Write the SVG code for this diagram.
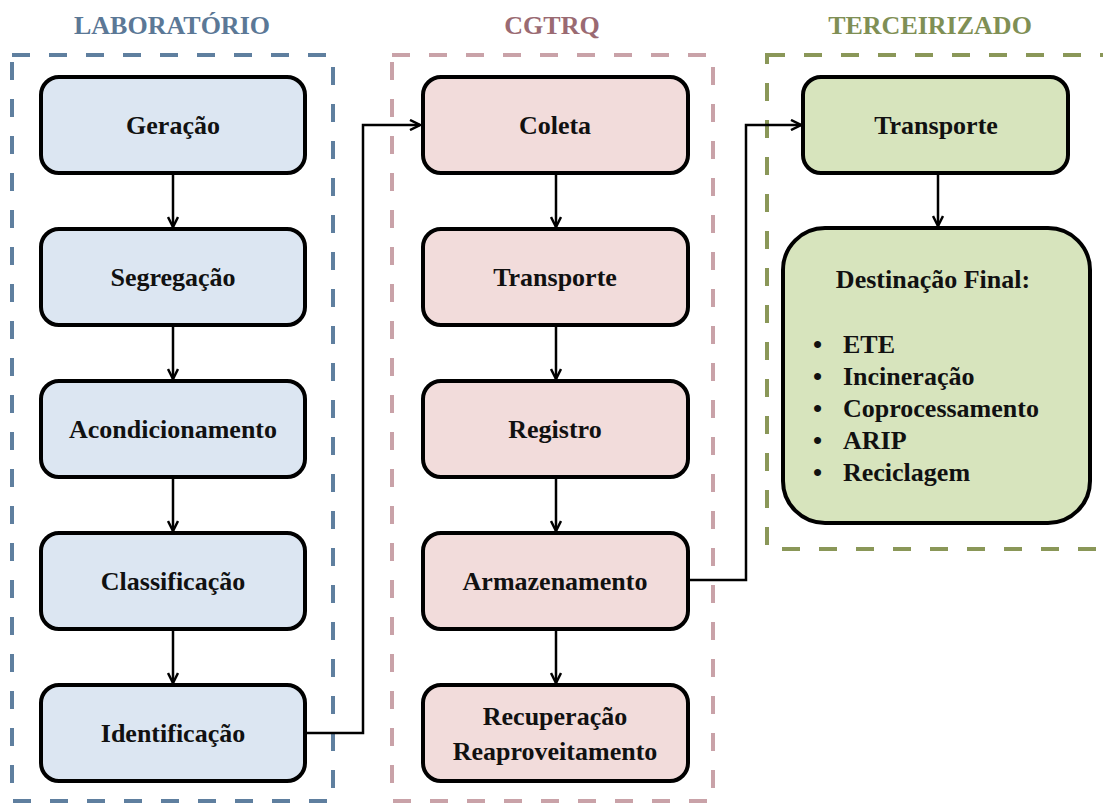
<svg xmlns="http://www.w3.org/2000/svg" width="1103" height="803" viewBox="0 0 1103 803">
<defs>
<style>
.lab{fill:#dce6f2;stroke:#000;stroke-width:4}
.cg{fill:#f2dcdb;stroke:#000;stroke-width:4}
.te{fill:#d7e4bd;stroke:#000;stroke-width:4}
.t{font-family:"Liberation Serif","Times New Roman",serif;font-weight:bold;font-size:26px;fill:#111;text-anchor:middle}
.tl{font-family:"Liberation Serif","Times New Roman",serif;font-weight:bold;font-size:26px;fill:#111}
.h{font-family:"Liberation Serif","Times New Roman",serif;font-weight:bold;font-size:26px;text-anchor:middle}
.grp{fill:none;stroke-width:4;stroke-dasharray:18 19}
.c{fill:none;stroke:#000;stroke-width:2.5;marker-end:url(#ah)}
</style>
<marker id="ah" viewBox="0 0 12 12" refX="11" refY="6" markerWidth="12" markerHeight="12" markerUnits="userSpaceOnUse" orient="auto">
<path d="M1,1 L11,6 L1,11" fill="none" stroke="#000" stroke-width="2.5"/>
</marker>
</defs>
<rect width="1103" height="803" fill="#fff"/>

<g id="group-laboratorio">
<rect class="grp" x="12" y="55" width="321" height="746" stroke="#5f7f9f"/>
<text class="h" x="172" y="34" fill="#5b7896">LABORATÓRIO</text>
</g>
<g id="group-cgtrq">
<rect class="grp" x="392" y="55" width="321" height="746" stroke="#c9a2a8"/>
<text class="h" x="552" y="34" fill="#9a6a72">CGTRQ</text>
</g>
<g id="group-terceirizado">
<rect class="grp" x="767" y="55" width="380" height="494" stroke="#8a9758"/>
<text class="h" x="930" y="34" fill="#7f8f55">TERCEIRIZADO</text>
</g>

<g id="connectors">
<line class="c" x1="173" y1="173" x2="173" y2="227"/>
<line class="c" x1="173" y1="325" x2="173" y2="379"/>
<line class="c" x1="173" y1="477" x2="173" y2="531"/>
<line class="c" x1="173" y1="629" x2="173" y2="683"/>
<polyline class="c" points="305,733 363,733 363,125 420,125"/>
<line class="c" x1="556" y1="173" x2="556" y2="227"/>
<line class="c" x1="556" y1="325" x2="556" y2="379"/>
<line class="c" x1="556" y1="477" x2="556" y2="531"/>
<line class="c" x1="556" y1="629" x2="556" y2="683"/>
<polyline class="c" points="688,580 746,580 746,125 801,125"/>
<line class="c" x1="938" y1="173" x2="938" y2="226"/>
</g>

<g id="node-geracao"><rect class="lab" x="41" y="77" width="264" height="96" rx="18"/><text class="t" x="173" y="134">Geração</text></g>
<g id="node-segregacao"><rect class="lab" x="41" y="229" width="264" height="96" rx="18"/><text class="t" x="173" y="286">Segregação</text></g>
<g id="node-acondicionamento"><rect class="lab" x="41" y="381" width="264" height="96" rx="18"/><text class="t" x="173" y="438">Acondicionamento</text></g>
<g id="node-classificacao"><rect class="lab" x="41" y="533" width="264" height="96" rx="18"/><text class="t" x="173" y="590">Classificação</text></g>
<g id="node-identificacao"><rect class="lab" x="41" y="685" width="264" height="96" rx="18"/><text class="t" x="173" y="742">Identificação</text></g>

<g id="node-coleta"><rect class="cg" x="423" y="77" width="265" height="96" rx="18"/><text class="t" x="555" y="134">Coleta</text></g>
<g id="node-transporte-cgtrq"><rect class="cg" x="423" y="229" width="265" height="96" rx="18"/><text class="t" x="555" y="286">Transporte</text></g>
<g id="node-registro"><rect class="cg" x="423" y="381" width="265" height="96" rx="18"/><text class="t" x="555" y="438">Registro</text></g>
<g id="node-armazenamento"><rect class="cg" x="423" y="533" width="265" height="96" rx="18"/><text class="t" x="555" y="590">Armazenamento</text></g>
<g id="node-recuperacao"><rect class="cg" x="423" y="685" width="265" height="96" rx="18"/><text class="t" x="555" y="725">Recuperação</text><text class="t" x="555" y="760">Reaproveitamento</text></g>

<g id="node-transporte-terc"><rect class="te" x="803" y="77" width="265" height="96" rx="18"/><text class="t" x="936" y="134">Transporte</text></g>
<g id="node-destinacao">
<rect class="te" x="783" y="228" width="307" height="295" rx="42"/>
<text class="t" x="933" y="288">Destinação Final:</text>
<text class="tl" x="813" y="353">•</text><text class="tl" x="843" y="353">ETE</text>
<text class="tl" x="813" y="385">•</text><text class="tl" x="843" y="385">Incineração</text>
<text class="tl" x="813" y="417">•</text><text class="tl" x="843" y="417">Coprocessamento</text>
<text class="tl" x="813" y="449">•</text><text class="tl" x="843" y="449">ARIP</text>
<text class="tl" x="813" y="481">•</text><text class="tl" x="843" y="481">Reciclagem</text>
</g>
</svg>
